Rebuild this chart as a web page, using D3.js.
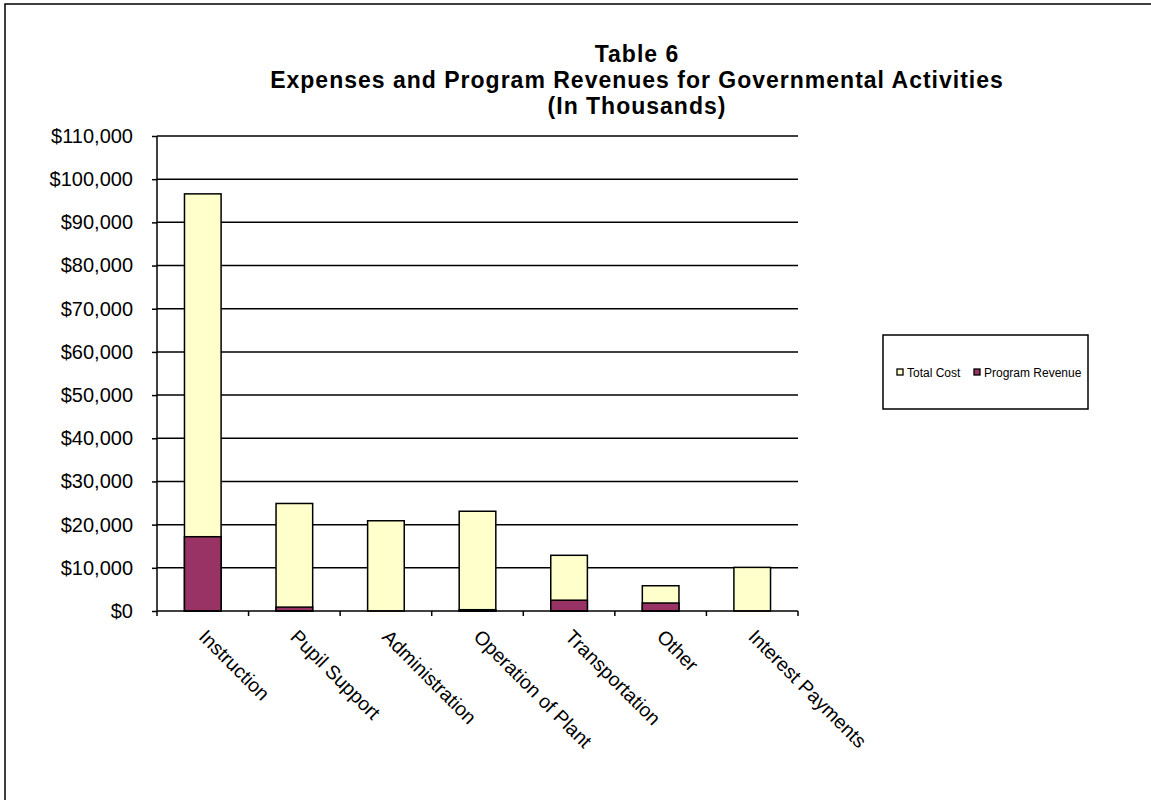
<!DOCTYPE html>
<html><head><meta charset="utf-8">
<script src="https://cdn.jsdelivr.net/npm/d3@7"></script>
<style>body{margin:0;background:#fff;} svg{display:block;}</style>
</head><body>
<svg id="c" width="1151" height="800"></svg>
<script>
const categories = ["Instruction","Pupil Support","Administration","Operation of Plant","Transportation","Other","Interest Payments"];
const totalCost = [96600, 24900, 20900, 23100, 12900, 5850, 10100];
const programRevenue = [17200, 900, 0, 300, 2500, 1850, 0];
const yTicks = [0,10000,20000,30000,40000,50000,60000,70000,80000,90000,100000,110000];
const titleLines = ["Table 6","Expenses and Program Revenues for Governmental Activities","(In Thousands)"];
const legendItems = ["Total Cost","Program Revenue"];
const colors = {cost:"#FFFFCC", rev:"#993366"};

const svg = d3.select("#c");
const font = "Arial, 'Liberation Sans', sans-serif";

svg.append("rect").attr("x",5).attr("y",4).attr("width",1200).attr("height",900)
  .attr("fill","none").attr("stroke","#000").attr("stroke-width",1.5);

const L=157, R=798, T=136, B=611;
const x = d3.scaleBand().domain(categories).range([L,R]).paddingInner(0.6).paddingOuter(0.3);
const xb = d3.scaleBand().domain(categories).range([L,R]);
const y = d3.scaleLinear().domain([0,110000]).range([B,T]);

// gridlines
svg.append("g").selectAll("line").data(yTicks.filter(d=>d>0)).join("line")
  .attr("x1",L).attr("x2",R).attr("y1",d=>y(d)).attr("y2",d=>y(d))
  .attr("stroke","#000").attr("stroke-width",1.5);

// y axis
const yAxis = d3.axisLeft(y).tickValues(yTicks).tickSize(5).tickPadding(19)
  .tickFormat(d=>"$"+d3.format(",")(d));
const gy = svg.append("g").attr("transform",`translate(${L},0)`).call(yAxis);
gy.select(".domain").attr("stroke","#000").attr("stroke-width",1.5).attr("d",`M-0,${T}V${B}`);
gy.selectAll(".tick line").attr("stroke","#000").attr("stroke-width",1.5);
gy.selectAll("text").attr("font-family",font).attr("font-size",20).attr("fill","#000");

// bars
const bw = x.bandwidth();
svg.append("g").selectAll("rect").data(categories).join("rect")
  .attr("x",(d)=>x(d)).attr("width",bw)
  .attr("y",(d,i)=>y(totalCost[i])).attr("height",(d,i)=>y(0)-y(totalCost[i]))
  .attr("fill",colors.cost).attr("stroke","#000").attr("stroke-width",1.5);
svg.append("g").selectAll("rect").data(categories).join("rect")
  .attr("x",(d)=>x(d)).attr("width",bw)
  .attr("y",(d,i)=>y(programRevenue[i])).attr("height",(d,i)=>y(0)-y(programRevenue[i]))
  .attr("fill",colors.rev).attr("stroke","#000").attr("stroke-width",(d,i)=>programRevenue[i]>0?1.5:0);

// x axis
const xAxis = d3.axisBottom(xb).tickSize(0).tickFormat("");
const gx = svg.append("g").attr("transform",`translate(0,${B})`).call(xAxis);
gx.select(".domain").attr("stroke","#000").attr("stroke-width",1.5).attr("d",`M${L},0H${R}`);
gx.selectAll(".tick").remove();
const edges = categories.map(c=>xb(c)).concat([R]);
svg.append("g").selectAll("line").data(edges).join("line")
  .attr("x1",d=>d).attr("x2",d=>d).attr("y1",B).attr("y2",B+5)
  .attr("stroke","#000").attr("stroke-width",1.5);

svg.append("g").selectAll("text").data(categories).join("text")
  .attr("transform",d=>`translate(${xb(d)+xb.bandwidth()/2-5},${B+27}) rotate(45)`)
  .attr("font-family",font).attr("font-size",19.5).attr("fill","#000")
  .text(d=>d);

// title
svg.append("g").selectAll("text").data(titleLines).join("text")
  .attr("x",637).attr("y",(d,i)=>62+i*26).attr("text-anchor","middle")
  .attr("font-family",font).attr("font-size",23).attr("font-weight","bold")
  .attr("letter-spacing",1).attr("fill","#000")
  .text(d=>d);

// legend
const lg = svg.append("g");
lg.append("rect").attr("x",883).attr("y",335).attr("width",205).attr("height",74)
  .attr("fill","#fff").attr("stroke","#000").attr("stroke-width",1.5);
const lx=[897,974];
const lc=[colors.cost,colors.rev];
legendItems.forEach((t,i)=>{
  lg.append("rect").attr("x",lx[i]).attr("y",369).attr("width",6).attr("height",6)
    .attr("fill",lc[i]).attr("stroke","#000").attr("stroke-width",1.3);
  lg.append("text").attr("x",lx[i]+10).attr("y",377).attr("font-family",font).attr("font-size",12)
    .attr("fill","#000").text(t);
});
</script>
</body></html>
